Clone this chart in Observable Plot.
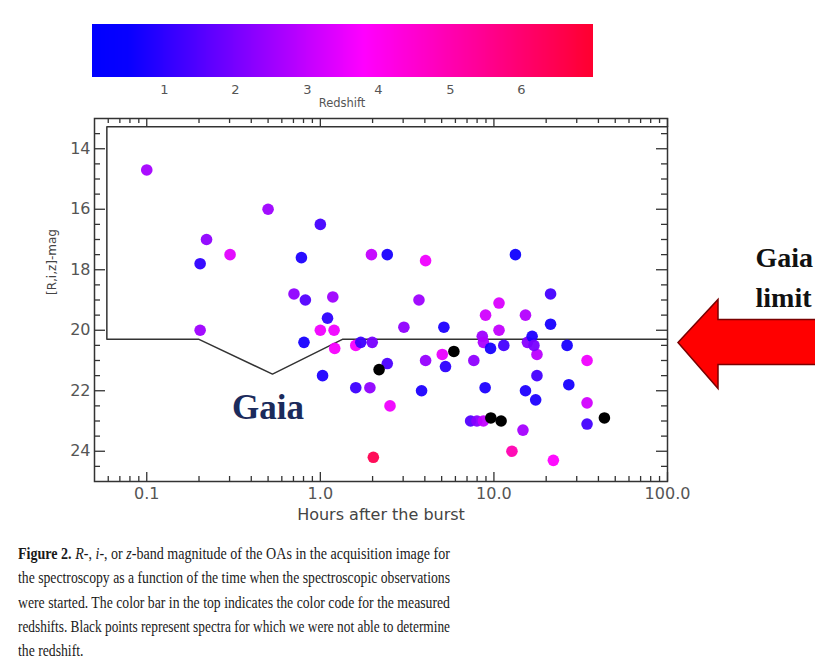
<!DOCTYPE html>
<html><head><meta charset="utf-8">
<script src="https://cdn.jsdelivr.net/npm/d3@7"></script>
<script src="https://cdn.jsdelivr.net/npm/@observablehq/plot@0.6"></script>
<style>
html,body{margin:0;padding:0;background:#fff;}
body{width:815px;height:661px;overflow:hidden;position:relative;}
#chart{position:absolute;left:0;top:0;}
#cbar{position:absolute;left:0;top:0;}
.cbar-ramp .tick line{display:none;}
#rs{position:absolute;left:342px;top:103px;transform:translate(-50%,-50%);font:11.5px "DejaVu Sans";color:#555;white-space:nowrap;}
#caption{position:absolute;left:18px;top:541px;font:17.5px "Liberation Serif";line-height:24.3px;color:#1a1a1a;}
#caption .ln{display:block;white-space:nowrap;height:24.3px;}
#caption .ln span{display:inline-block;transform-origin:0 50%;}
</style></head><body>
<div id="chart"></div>
<div id="cbar"></div>
<div id="rs">Redshift</div>
<div id="caption">
<div class="ln"><span><b>Figure 2.</b> <i>R</i>-, <i>i</i>-, or <i>z</i>-band magnitude of the OAs in the acquisition image for</span></div>
<div class="ln"><span>the spectroscopy as a function of the time when the spectroscopic observations</span></div>
<div class="ln"><span>were started. The color bar in the top indicates the color code for the measured</span></div>
<div class="ln"><span>redshifts. Black points represent spectra for which we were not able to determine</span></div>
<div class="ln last"><span>the redshift.</span></div>
</div>
<script>
// ---- data ----
const hours = [0.1, 0.5, 0.221, 0.203, 0.302, 1.0, 0.778, 1.97, 0.705, 0.82, 1.18, 2.43, 4.04, 13.3, 3.7, 10.7, 21.2, 8.95, 15.2, 21.2, 3.03, 5.15, 10.7, 1.1, 1.2, 1.0, 0.203, 0.805, 1.21, 1.6, 1.71, 1.99, 8.57, 8.7, 9.56, 11.4, 15.6, 16.6, 17.7, 26.4, 5.04, 5.26, 4.04, 2.43, 7.66, 34.4, 17.7, 1.6, 1.93, 3.83, 8.9, 15.2, 17.4, 27, 2.52, 34.4, 34.4, 7.34, 7.98, 8.7, 14.7, 12.7, 22, 2.02, 1.03, 17.0];
const mags = [14.7, 16.0, 17.0, 17.8, 17.5, 16.5, 17.6, 17.5, 18.8, 19.0, 18.9, 17.5, 17.7, 17.5, 19.0, 19.1, 18.8, 19.5, 19.5, 19.8, 19.9, 19.9, 20.0, 19.6, 20.0, 20.0, 20.0, 20.4, 20.6, 20.5, 20.4, 20.4, 20.2, 20.4, 20.6, 20.5, 20.4, 20.2, 20.8, 20.5, 20.8, 21.2, 21.0, 21.1, 21.0, 21.0, 21.5, 21.9, 21.9, 22.0, 21.9, 22.0, 22.3, 21.8, 22.5, 22.4, 23.1, 23.0, 23.0, 23.0, 23.3, 24.0, 24.3, 24.2, 21.5, 20.5];
const redshift = [2.6, 2.5, 2.3, 1.0, 3.4, 1.3, 0.8, 3.0, 2.3, 1.5, 2.5, 0.7, 3.6, 0.6, 2.5, 3.3, 1.3, 3.2, 2.8, 0.7, 2.3, 0.8, 3.0, 1.0, 3.6, 3.6, 2.5, 0.7, 3.7, 3.7, 1.2, 2.0, 2.5, 2.7, 0.7, 1.3, 2.2, 0.8, 2.9, 0.7, 3.5, 1.0, 2.4, 1.4, 2.3, 3.6, 1.3, 1.2, 2.3, 0.8, 0.8, 0.8, 0.8, 0.7, 3.6, 3.2, 1.3, 1.5, 2.2, 3.0, 2.6, 5.0, 3.8, 6.5, 0.8, 2.0];
const unknownHours = [2.18, 5.88, 9.6, 11.0, 43.3];
const unknownMags = [21.3, 20.7, 22.9, 23.0, 22.9];

const gaiaHours = [100, 0.0589, 0.0589, 0.2, 0.53, 1.34, 100];
const gaiaMags = [13.27, 13.27, 20.3, 20.3, 21.45, 20.3, 20.3];

const xTicks = [0.1, 1, 10, 100];
const xTickLabels = ["0.1", "1.0", "10.0", "100.0"];
const xMinor = [0.06, 0.07, 0.08, 0.09, 0.2, 0.3, 0.4, 0.5, 0.6, 0.7, 0.8, 0.9, 2, 3, 4, 5, 6, 7, 8, 9, 20, 30, 40, 50, 60, 70, 80, 90];
const yTicks = [14, 16, 18, 20, 22, 24];
const yMinor = [13.5, 14.5, 15, 15.5, 16.5, 17, 17.5, 18.5, 19, 19.5, 20.5, 21, 21.5, 22.5, 23, 23.5, 24.5];
const cbarTicks = [1, 2, 3, 4, 5, 6];
const colorStops = [0, 0.5, 3.8, 7];
const colorRange = ["#0000ff", "#0800ff", "#ff00ff", "#ff0030"];

// ---- build ----
const pts = hours.map((h, i) => ({h, m: mags[i], z: redshift[i]}));
const unk = unknownHours.map((h, i) => ({h, m: unknownMags[i]}));
const gaia = gaiaHours.map((h, i) => ({h, m: gaiaMags[i]}));
const ramp = d3.scaleLinear().domain(colorStops.map(d => d / 7)).range(colorRange).interpolate(d3.interpolateRgb).clamp(true);

const W = 815, H = 545, mL = 94, mR = 148, mT = 118, mB = 64;
const fw = W - mL - mR, fh = H - mT - mB;
const ink = "#333";

const plot = Plot.plot({
  width: W, height: H,
  marginLeft: mL, marginRight: mR, marginTop: mT, marginBottom: mB,
  style: {fontFamily: "DejaVu Sans", fontSize: "16px", color: "#555", background: "transparent", overflow: "visible"},
  x: {type: "log", domain: [0.05, 100], label: null},
  y: {domain: [13, 25], reverse: true, label: null},
  color: {type: "linear", domain: [0, 7], interpolate: t => ramp(t), label: null},
  marks: [
    Plot.line(gaia, {x: "h", y: "m", stroke: ink, strokeWidth: 1.5}),
    Plot.frame({stroke: ink, strokeWidth: 1.5}),
    Plot.tickY(yTicks, {y: d => d, insetRight: fw - 11, stroke: ink, strokeWidth: 1.3}),
    Plot.tickY(yMinor, {y: d => d, insetRight: fw - 6, stroke: ink, strokeWidth: 1.3}),
    Plot.tickY(yTicks, {y: d => d, insetLeft: fw - 11, stroke: ink, strokeWidth: 1.3}),
    Plot.tickY(yMinor, {y: d => d, insetLeft: fw - 6, stroke: ink, strokeWidth: 1.3}),
    Plot.tickX(xTicks, {x: d => d, insetTop: fh - 9, stroke: ink, strokeWidth: 1.3}),
    Plot.tickX(xMinor, {x: d => d, insetTop: fh - 5, stroke: ink, strokeWidth: 1.3}),
    Plot.tickX(xTicks, {x: d => d, insetBottom: fh - 9, stroke: ink, strokeWidth: 1.3}),
    Plot.tickX(xMinor, {x: d => d, insetBottom: fh - 5, stroke: ink, strokeWidth: 1.3}),
    Plot.axisY(yTicks, {anchor: "left", tickSize: 0, tickPadding: 4, label: null}),
    Plot.axisX(xTicks, {anchor: "bottom", tickSize: 0, tickPadding: 6, label: null,
      tickFormat: d => xTickLabels[xTicks.indexOf(d)]}),
    Plot.dot(pts, {x: "h", y: "m", fill: "z", r: 5.8, fillOpacity: 0.95}),
    Plot.dot(unk, {x: "h", y: "m", fill: "black", r: 5.8}),
    Plot.text(["Hours after the burst"], {text: d => d, frameAnchor: "bottom", dy: 38, fontSize: 16, fill: "#444"}),
    Plot.text(["[R,i,z]-mag"], {text: d => d, frameAnchor: "left", dx: -42, dy: -5, rotate: -90, fontSize: 12, fill: "#444"}),
    Plot.text(["Gaia"], {text: d => d, x: [0.5], y: [22.55], fontFamily: "Liberation Serif", fontWeight: "bold", fontSize: 35, fill: "#1b2b5c"}),
    Plot.text(["Gaia\nlimit"], {text: d => d, frameAnchor: "top-right", textAnchor: "start", lineAnchor: "top",
      dx: 88, dy: 120, lineHeight: 1.43, fontFamily: "Liberation Serif", fontWeight: "bold", fontSize: 28, fill: "#111"})
  ]
});

// Red arrow pointing at the Gaia limit
const ys = plot.scale("y");
const Y = ys.apply(20.42);
const tipX = W - mR + 11;
d3.select(plot).append("path")
  .attr("d", `M${tipX},${Y} L${tipX + 40},${Y - 43} L${tipX + 40},${Y - 23} L${W + 10},${Y - 23} L${W + 10},${Y + 22} L${tipX + 40},${Y + 22} L${tipX + 40},${Y + 46} Z`)
  .attr("fill", "#ff0000").attr("stroke", "#7a0000").attr("stroke-width", 1.5).attr("stroke-linejoin", "miter");

document.getElementById("chart").appendChild(plot);

const legend = plot.legend("color", {
  width: 600, height: 107, marginTop: 24, marginBottom: 30, marginLeft: 92, marginRight: 7,
  ticks: cbarTicks, tickSize: 5, tickFormat: d => String(d), label: null, className: "cbar",
  style: {fontSize: "13px", fontFamily: "DejaVu Sans", color: "#555", background: "transparent"}
});
document.getElementById("cbar").appendChild(legend);

// fit each caption line to the reference text width
const spans = [...document.querySelectorAll("#caption .ln span")];
const target = 432;
let sum = 0, n = 0;
spans.forEach((s, i) => {
  if (i < spans.length - 1) {
    const k = target / s.getBoundingClientRect().width;
    s.style.transform = `scaleX(${k})`;
    sum += k; n++;
  }
});
spans[spans.length - 1].style.transform = `scaleX(${sum / n})`;
</script>
</body></html>
